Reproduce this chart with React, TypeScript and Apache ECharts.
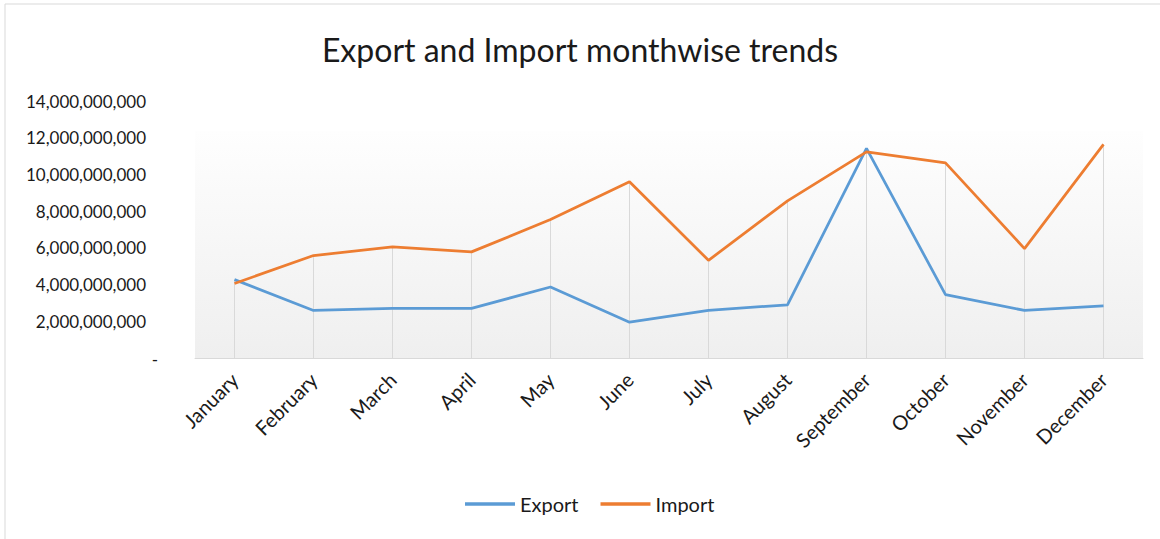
import React, { useEffect, useRef } from "react";
import * as echarts from "echarts";

const months = ["January", "February", "March", "April", "May", "June", "July", "August", "September", "October", "November", "December"];
const exportValues = [4.27e9, 2.59e9, 2.7e9, 2.7e9, 3.87e9, 1.95e9, 2.59e9, 2.9e9, 11.42e9, 3.45e9, 2.59e9, 2.84e9];
const importValues = [4.06e9, 5.58e9, 6.05e9, 5.78e9, 7.54e9, 9.6e9, 5.32e9, 8.56e9, 11.23e9, 10.63e9, 5.96e9, 11.64e9];
const dropValues = months.map((_, i) => Math.max(exportValues[i], importValues[i]));

const FONT = "Lato, 'Open Sans', sans-serif";
const TEXT = "#1a1a1a";

export default function App() {
  const ref = useRef<HTMLDivElement>(null);
  useEffect(() => {
    if (!ref.current) return;
    const chart = echarts.init(ref.current, undefined, { renderer: "svg" });
    chart.setOption({
      animation: false,
      backgroundColor: "#ffffff",
      textStyle: { fontFamily: FONT },
      title: {
        text: "Export and Import monthwise trends",
        left: "center",
        top: 28,
        textStyle: { fontFamily: FONT, fontSize: 32, fontWeight: "normal", color: TEXT },
      },
      graphic: [
        {
          type: "rect",
          silent: true,
          z: -10,
          shape: { x: 5, y: 4, width: 1170, height: 560 },
          style: { fill: "none", stroke: "#d9d9d9", lineWidth: 1 },
        },
        {
          type: "rect",
          silent: true,
          z: -10,
          shape: { x: 195, y: 131, width: 948, height: 227 },
          style: {
            fill: new echarts.graphic.LinearGradient(0, 0, 0, 1, [
              { offset: 0, color: "#fefefe" },
              { offset: 1, color: "#efefef" },
            ]),
          },
        },
      ],
      legend: {
        data: [
          { name: "Export", icon: "rect" },
          { name: "Import", icon: "rect" },
        ],
        left: 460,
        top: 489,
        itemWidth: 50,
        itemHeight: 3.5,
        itemGap: 22,
        textStyle: { fontFamily: FONT, fontSize: 20, color: TEXT },
      },
      grid: { left: 195, right: 17, top: 101, bottom: 181, containLabel: false },
      xAxis: {
        type: "category",
        data: months,
        boundaryGap: true,
        axisLine: { show: true, lineStyle: { color: "#d9d9d9", width: 1 } },
        axisTick: { show: false },
        splitLine: { show: false },
        axisLabel: {
          rotate: 45,
          margin: 18,
          interval: 0,
          fontFamily: FONT,
          fontSize: 20,
          color: TEXT,
        },
      },
      yAxis: {
        type: "value",
        min: 0,
        max: 14e9,
        interval: 2e9,
        axisLine: { show: false },
        axisTick: { show: false },
        splitLine: { show: false },
        axisLabel: {
          margin: 37,
          fontFamily: FONT,
          fontSize: 17,
          color: TEXT,
          formatter: (v: number) => (v === 0 ? "{d|-}" : "{n|" + v.toLocaleString("en-US") + "}"),
          rich: {
            n: { fontFamily: FONT, fontSize: 17, color: TEXT, padding: [0, 12, 0, 0] },
            d: { fontFamily: FONT, fontSize: 17, color: TEXT, padding: [2, 0, 0, 0] },
          },
        },
      },
      series: [
        {
          name: "drop",
          type: "bar",
          data: dropValues,
          barWidth: 1,
          silent: true,
          z: 1,
          itemStyle: { color: "#d9d9d9" },
        },
        {
          name: "Export",
          type: "line",
          data: exportValues,
          symbol: "none",
          z: 3,
          lineStyle: { color: "#5b9bd5", width: 2.75 },
          itemStyle: { color: "#5b9bd5" },
        },
        {
          name: "Import",
          type: "line",
          data: importValues,
          symbol: "none",
          z: 4,
          lineStyle: { color: "#ed7d31", width: 2.75 },
          itemStyle: { color: "#ed7d31" },
        },
      ],
    });
    return () => chart.dispose();
  }, []);
  return <div ref={ref} style={{ position: "fixed", left: 0, top: 0, width: 1160, height: 539 }} />;
}
